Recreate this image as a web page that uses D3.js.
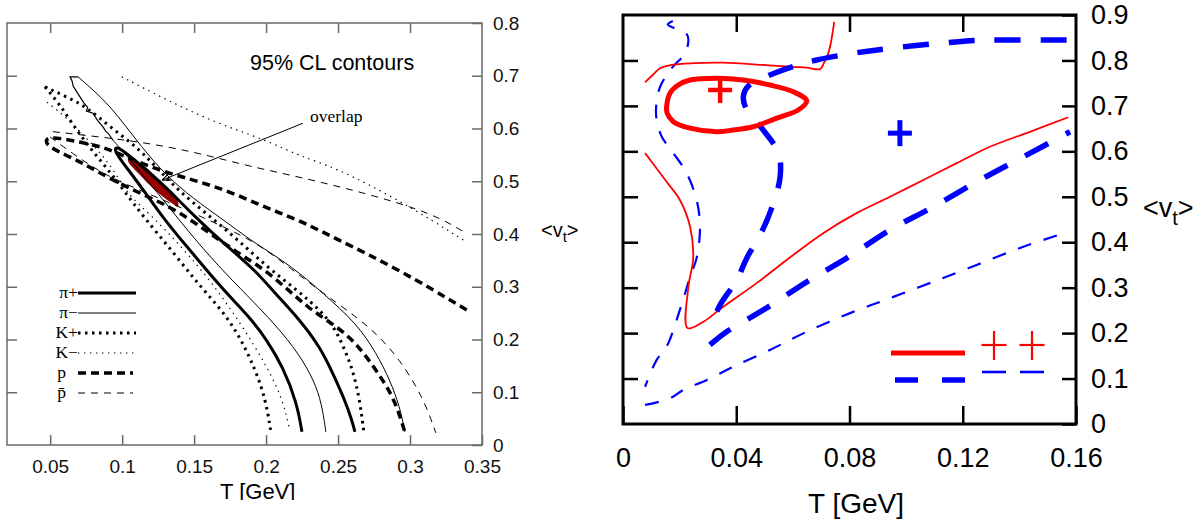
<!DOCTYPE html>
<html>
<head>
<meta charset="utf-8">
<script src="https://cdn.jsdelivr.net/npm/d3@7"></script>
<style>
  body { margin: 0; background: #fff; }
  text { font-family: "Liberation Sans", Arial, Helvetica, sans-serif; }
  .serif { font-family: "Liberation Serif", "Times New Roman", serif; }
</style>
</head>
<body>
<div id="main"></div>
<script>
// ---- left panel: 95% CL contours, T [GeV] vs <v_t>
const leftTicksT = [0.05, 0.1, 0.15, 0.2, 0.25, 0.3, 0.35];
const leftTicksV = [0, 0.1, 0.2, 0.3, 0.4, 0.5, 0.6, 0.7, 0.8];

const piPlusA = [[0.0936,0.559],[0.1054,0.518],[0.1172,0.474],[0.1276,0.434],[0.1388,0.396],[0.1506,0.358],[0.1644,0.313],[0.1769,0.275],[0.1888,0.241],[0.2006,0.199],[0.2117,0.148],[0.2214,0.080],[0.2249,0.025]];
const piPlusB = [[0.0964,0.569],[0.1124,0.531],[0.1276,0.497],[0.1506,0.432],[0.1735,0.375],[0.1922,0.332],[0.2061,0.288],[0.2235,0.237],[0.2374,0.186],[0.2464,0.136],[0.2547,0.085],[0.2596,0.047],[0.2617,0.025]];

const piMinusWiggle = [[0.0693,0.698],[0.0638,0.698],[0.0652,0.690],[0.0660,0.680],[0.0672,0.675],[0.0688,0.668],[0.0707,0.660],[0.0735,0.648],[0.0760,0.640],[0.0752,0.633],[0.0797,0.629],[0.0830,0.615],[0.0867,0.603],[0.0885,0.595],[0.0905,0.590],[0.0936,0.578]];
const piMinusA = [[0.0936,0.578],[0.0999,0.559],[0.1124,0.518],[0.1276,0.468],[0.1506,0.389],[0.1728,0.322],[0.1915,0.271],[0.2117,0.212],[0.2256,0.161],[0.2353,0.110],[0.2394,0.066],[0.2415,0.025]];
const piMinusB = [[0.0693,0.698],[0.0892,0.651],[0.1054,0.594],[0.1216,0.537],[0.1401,0.487],[0.1587,0.449],[0.1818,0.404],[0.1910,0.385],[0.2188,0.337],[0.2394,0.288],[0.2628,0.231],[0.2767,0.174],[0.2860,0.123],[0.2929,0.073],[0.2964,0.025]];

const kPlusA = [[0.0464,0.679],[0.0568,0.645],[0.0658,0.607],[0.0776,0.563],[0.0894,0.525],[0.1019,0.480],[0.1144,0.434],[0.1353,0.366],[0.1540,0.301],[0.1735,0.243],[0.1874,0.176],[0.1971,0.110],[0.2013,0.061],[0.2033,0.025]];
const kPlusB = [[0.0464,0.679],[0.0614,0.660],[0.0753,0.641],[0.0915,0.603],[0.1103,0.565],[0.1242,0.525],[0.1401,0.480],[0.1589,0.438],[0.1804,0.389],[0.2013,0.336],[0.2214,0.294],[0.2374,0.256],[0.2478,0.222],[0.2547,0.180],[0.2603,0.142],[0.2651,0.085],[0.2679,0.025]];

const kMinusA = [[0.0478,0.650],[0.0617,0.620],[0.0728,0.588],[0.0846,0.555],[0.0950,0.518],[0.1040,0.474],[0.1193,0.438],[0.1401,0.379],[0.1610,0.313],[0.1818,0.233],[0.2013,0.146],[0.2117,0.085],[0.2165,0.028]];
const kMinusB = [[0.0997,0.698],[0.1309,0.654],[0.1656,0.610],[0.2003,0.578],[0.2235,0.547],[0.2466,0.528],[0.2929,0.464],[0.3392,0.385]];

const protonA = [[0.0464,0.588],[0.0728,0.573],[0.0894,0.563],[0.1075,0.540],[0.1311,0.516],[0.1540,0.499],[0.1769,0.478],[0.2006,0.449],[0.2214,0.428],[0.2464,0.394],[0.2929,0.332],[0.3394,0.256]];
const protonB = [[0.0464,0.567],[0.0658,0.544],[0.0811,0.521],[0.1040,0.487],[0.1346,0.451],[0.1575,0.408],[0.1804,0.364],[0.1971,0.336],[0.2131,0.300],[0.2283,0.262],[0.2443,0.233],[0.2582,0.205],[0.2700,0.167],[0.2811,0.123],[0.2894,0.085],[0.2964,0.025]];

const pbarA = [[0.0519,0.594],[0.0846,0.584],[0.1193,0.572],[0.1540,0.553],[0.1888,0.528],[0.2235,0.508],[0.2698,0.477],[0.3160,0.439],[0.3392,0.401]];
const pbarB = [[0.0499,0.584],[0.0658,0.552],[0.0797,0.527],[0.0915,0.508],[0.1124,0.483],[0.1332,0.459],[0.1540,0.434],[0.1749,0.408],[0.1957,0.379],[0.2165,0.336],[0.2394,0.288],[0.2628,0.243],[0.2790,0.205],[0.2929,0.161],[0.3047,0.110],[0.3124,0.066],[0.3179,0.023]];

const overlapRegion = [[0.1043,0.543],[0.1158,0.528],[0.1274,0.496],[0.1367,0.474],[0.1390,0.452],[0.1344,0.459],[0.1228,0.483],[0.1112,0.515],[0.1043,0.537]];
const overlapArrow = [[0.2256,0.610],[0.1276,0.502]];

const legendLabels = ["π+", "π−", "K+", "K−", "p", "p\u0304"];

// ---- right panel
const rightTicksT = [0, 0.04, 0.08, 0.12, 0.16];
const rightTicksV = [0, 0.1, 0.2, 0.3, 0.4, 0.5, 0.6, 0.7, 0.8, 0.9];

const redBest = [[0.0154,0.698],[0.0166,0.728],[0.0195,0.746],[0.0237,0.757],[0.0331,0.761],[0.0425,0.757],[0.0519,0.746],[0.0602,0.731],[0.0649,0.711],[0.0619,0.691],[0.0543,0.673],[0.0460,0.654],[0.0390,0.647],[0.0331,0.643],[0.0237,0.651],[0.0178,0.665],[0.0156,0.684]];
const redThinTop = [[0.0746,0.885],[0.0740,0.860],[0.0733,0.835],[0.0722,0.810],[0.0710,0.795],[0.0696,0.781],[0.0650,0.784],[0.0602,0.786],[0.0500,0.790],[0.0354,0.795],[0.0250,0.794],[0.0170,0.790],[0.0131,0.783],[0.0105,0.768],[0.0078,0.752]];
const redThinBottom = [[0.0078,0.596],[0.0154,0.533],[0.0201,0.493],[0.0237,0.434],[0.0248,0.365],[0.0231,0.302],[0.0228,0.211],[0.0284,0.225],[0.0354,0.258],[0.0472,0.310],[0.0578,0.361],[0.0707,0.420],[0.0825,0.464],[0.0943,0.500],[0.1061,0.537],[0.1179,0.574],[0.1296,0.610],[0.1437,0.643],[0.1573,0.675]];

const blueThickTop = [[0.1567,0.845],[0.1355,0.845],[0.1226,0.8435],[0.1120,0.8377],[0.0943,0.8267],[0.0813,0.8157],[0.0684,0.801],[0.0602,0.787],[0.0519,0.768],[0.0443,0.744],[0.0425,0.720],[0.0437,0.691],[0.0490,0.651],[0.0549,0.596],[0.0555,0.544],[0.0525,0.475],[0.0490,0.423],[0.0437,0.365],[0.0402,0.317],[0.0343,0.262],[0.0307,0.211]];
const blueThickBottom = [[0.0307,0.174],[0.0366,0.203],[0.0496,0.251],[0.0660,0.317],[0.0790,0.365],[0.0943,0.427],[0.1096,0.478],[0.1261,0.537],[0.1414,0.588],[0.1579,0.643]];

const blueThinUpper = [[0.0176,0.887],[0.0158,0.879],[0.0185,0.870],[0.0225,0.858],[0.0231,0.845],[0.0219,0.816],[0.0172,0.783],[0.0131,0.742],[0.0117,0.698],[0.0119,0.669],[0.0137,0.632],[0.0178,0.596],[0.0225,0.552],[0.0260,0.493],[0.0272,0.434],[0.0260,0.365],[0.0237,0.324],[0.0201,0.251],[0.0154,0.170],[0.0119,0.141],[0.0078,0.082]];
const blueThinLower = [[0.0078,0.042],[0.0166,0.0565],[0.0213,0.075],[0.0296,0.097],[0.0390,0.126],[0.0519,0.163],[0.0649,0.203],[0.0802,0.244],[0.0943,0.277],[0.1096,0.313],[0.1249,0.350],[0.1414,0.390],[0.1573,0.423]];

const redBestPoint = [0.0343, 0.735];
const blueBestPoint = [0.0978, 0.640];

const svg = d3.select("#main")
  .append("svg")
  .attr("width", 1202)
  .attr("height", 520);

svg.append("defs").append("clipPath")
  .attr("id", "clipLeft")
  .append("rect")
  .attr("x", 0).attr("y", 0).attr("width", 600).attr("height", 500);

svg.select("defs").append("marker")
  .attr("id", "arrow")
  .attr("viewBox", "0 0 10 10")
  .attr("refX", 10).attr("refY", 5)
  .attr("markerWidth", 9).attr("markerHeight", 9)
  .attr("markerUnits", "userSpaceOnUse")
  .attr("orient", "auto")
  .append("path")
  .attr("d", "M0,1 L10,5 L0,9")
  .attr("fill", "none")
  .attr("stroke", "#000")
  .attr("stroke-width", 1.2);

// ================= LEFT =================
const xL = d3.scaleLinear().domain([0.02, 0.35]).range([7, 482]);
const yL = d3.scaleLinear().domain([0, 0.8]).range([445, 23]);

const left = svg.append("g").attr("clip-path", "url(#clipLeft)");

const lineL = d3.line()
  .x(d => xL(d[0]))
  .y(d => yL(d[1]))
  .curve(d3.curveBasis);

left.append("path")
  .attr("d", d3.line().x(d => xL(d[0])).y(d => yL(d[1])).curve(d3.curveCatmullRomClosed)(overlapRegion))
  .attr("fill", "#960000");

const leftStyles = {
  thickSolid: { w: 3, dash: null },
  thinSolid: { w: 1, dash: null },
  thickDot: { w: 3, dash: "2.5,4.5" },
  thinDot: { w: 1.2, dash: "1.4,4.6" },
  thickDash: { w: 3.5, dash: "8,5" },
  thinDash: { w: 1, dash: "7,6" }
};

const leftCurves = [
  { pts: kPlusA, s: "thickDot" },
  { pts: kPlusB, s: "thickDot" },
  { pts: kMinusA, s: "thinDot" },
  { pts: kMinusB, s: "thinDot" },
  { pts: protonA.slice().reverse().concat(protonB), s: "thickDash" },
  { pts: pbarA, s: "thinDash" },
  { pts: pbarB, s: "thinDash" },
  { pts: piMinusA, s: "thinSolid" },
  { pts: piMinusB, s: "thinSolid" },
  { pts: piPlusA.slice().reverse().concat(piPlusB), s: "thickSolid" }
];

left.selectAll("path.curve")
  .data(leftCurves)
  .enter()
  .append("path")
  .attr("class", "curve")
  .attr("d", d => lineL(d.pts))
  .attr("fill", "none")
  .attr("stroke", "#000")
  .attr("stroke-width", d => leftStyles[d.s].w)
  .attr("stroke-dasharray", d => leftStyles[d.s].dash);

// shaky top of the pi- contour
left.append("path")
  .attr("d", d3.line().x(d => xL(d[0])).y(d => yL(d[1]))(piMinusWiggle))
  .attr("fill", "none")
  .attr("stroke", "#000")
  .attr("stroke-width", 1.2);

// overlap annotation
left.append("line")
  .attr("x1", xL(overlapArrow[0][0])).attr("y1", yL(overlapArrow[0][1]))
  .attr("x2", xL(overlapArrow[1][0])).attr("y2", yL(overlapArrow[1][1]))
  .attr("stroke", "#000")
  .attr("stroke-width", 1)
  .attr("marker-end", "url(#arrow)");

left.append("text")
  .attr("class", "serif")
  .attr("x", xL(overlapArrow[0][0]) + 7)
  .attr("y", yL(overlapArrow[0][1]) - 1)
  .style("font-size", "17.5px")
  .text("overlap");

left.append("text")
  .attr("x", 250)
  .attr("y", 70)
  .style("font-size", "21.5px")
  .text("95% CL contours");

// frame + axes
const grey = "#6a6a6a";

left.append("g")
  .attr("transform", "translate(0," + 445 + ")")
  .call(d3.axisBottom(xL).tickValues(leftTicksT).tickSize(-10).tickPadding(15).tickFormat(d => String(d)))
  .call(g => g.select(".domain").remove())
  .call(g => g.selectAll("line").attr("stroke", grey).attr("stroke-width", 1.5))
  .call(g => g.selectAll("text").style("font-size", "19px").attr("fill", "#111"));

left.append("g")
  .attr("transform", "translate(0," + 23 + ")")
  .call(d3.axisTop(xL).tickValues(leftTicksT.slice(0, 6)).tickSize(-10).tickFormat(""))
  .call(g => g.select(".domain").remove())
  .call(g => g.selectAll("line").attr("stroke", grey).attr("stroke-width", 1.5));

left.append("g")
  .attr("transform", "translate(" + 7 + ",0)")
  .call(d3.axisLeft(yL).tickValues(leftTicksV.slice(1, 8)).tickSize(-10).tickFormat(""))
  .call(g => g.select(".domain").remove())
  .call(g => g.selectAll("line").attr("stroke", grey).attr("stroke-width", 1.5));

left.append("g")
  .attr("transform", "translate(" + 482 + ",0)")
  .call(d3.axisRight(yL).tickValues(leftTicksV).tickSize(-10).tickPadding(11).tickFormat(d => String(d)))
  .call(g => g.select(".domain").remove())
  .call(g => g.selectAll("line").attr("stroke", grey).attr("stroke-width", 1.5))
  .call(g => g.selectAll("text").style("font-size", "19px").attr("fill", "#111"));

left.append("rect")
  .attr("x", 7).attr("y", 23)
  .attr("width", 475).attr("height", 422)
  .attr("fill", "none")
  .attr("stroke", grey)
  .attr("stroke-width", 1.5);

left.append("text")
  .attr("x", 220)
  .attr("y", 499)
  .style("font-size", "22px")
  .text("T [GeV]");

const vtL = left.append("text")
  .attr("x", 541)
  .attr("y", 237)
  .style("font-size", "20px");
vtL.append("tspan").text("<v");
vtL.append("tspan").attr("dy", 5).style("font-size", "15px").text("t");
vtL.append("tspan").attr("dy", -5).text(">");

// legend
const legendKeys = ["thickSolid", "thinSolid", "thickDot", "thinDot", "thickDash", "thinDash"];
const legendY = d3.scalePoint().domain(d3.range(6)).range([293, 393]);

const leg = left.append("g");
leg.selectAll("line")
  .data(legendKeys)
  .enter()
  .append("line")
  .attr("x1", 78)
  .attr("x2", (d, i) => i < 4 ? 136 : 133)
  .attr("y1", (d, i) => legendY(i))
  .attr("y2", (d, i) => legendY(i))
  .attr("stroke", "#000")
  .attr("stroke-width", d => leftStyles[d].w)
  .attr("stroke-dasharray", d => leftStyles[d].dash);

leg.selectAll("text")
  .data(legendLabels)
  .enter()
  .append("text")
  .attr("class", "serif")
  .attr("x", (d, i) => i < 4 ? 78 : 66)
  .attr("y", (d, i) => legendY(i) + 5)
  .attr("text-anchor", "end")
  .style("font-size", "17.5px")
  .text(d => d);

// ================= RIGHT =================
const xR = d3.scaleLinear().domain([0, 0.16]).range([623, 1076]);
const yR = d3.scaleLinear().domain([0, 0.9]).range([424, 15]);

const right = svg.append("g");

const lineR = d3.line()
  .x(d => xR(d[0]))
  .y(d => yR(d[1]))
  .curve(d3.curveCatmullRom.alpha(0.5));

const red = "#ff0000";
const blue = "#0000ff";

const rightCurves = [
  { pts: blueThinUpper, c: blue, w: 2.2, dash: "14,13" },
  { pts: blueThinLower, c: blue, w: 2.2, dash: "14,13" },
  { pts: redThinTop, c: red, w: 1.8, dash: null },
  { pts: redThinBottom, c: red, w: 1.8, dash: null },
  { pts: blueThickTop, c: blue, w: 5.5, dash: "26,20" },
  { pts: blueThickBottom, c: blue, w: 5.5, dash: "26,20" }
];

right.selectAll("path.curve")
  .data(rightCurves)
  .enter()
  .append("path")
  .attr("class", "curve")
  .attr("d", d => lineR(d.pts))
  .attr("fill", "none")
  .attr("stroke", d => d.c)
  .attr("stroke-width", d => d.w)
  .attr("stroke-dasharray", d => d.dash);

right.append("path")
  .attr("d", d3.line().x(d => xR(d[0])).y(d => yR(d[1])).curve(d3.curveCatmullRomClosed)(redBest))
  .attr("fill", "none")
  .attr("stroke", red)
  .attr("stroke-width", 5);

// best-fit crosses
const crossData = [
  { p: redBestPoint, c: red, hw: 12, hh: 13, w: 4.5 },
  { p: blueBestPoint, c: blue, hw: 12, hh: 13, w: 5 }
];
crossData.forEach(d => {
  const cx = xR(d.p[0]), cy = yR(d.p[1]);
  right.append("line").attr("x1", cx - d.hw).attr("x2", cx + d.hw).attr("y1", cy).attr("y2", cy)
    .attr("stroke", d.c).attr("stroke-width", d.w);
  right.append("line").attr("x1", cx).attr("x2", cx).attr("y1", cy - d.hh).attr("y2", cy + d.hh)
    .attr("stroke", d.c).attr("stroke-width", d.w);
});

// axes
right.append("g")
  .attr("transform", "translate(0," + 424 + ")")
  .call(d3.axisBottom(xR).tickValues(rightTicksT).tickSize(-18).tickPadding(24).tickFormat(d => String(d)))
  .call(g => g.select(".domain").remove())
  .call(g => g.selectAll("line").attr("stroke", "#000").attr("stroke-width", 2.5))
  .call(g => g.selectAll("text").style("font-size", "27px").attr("fill", "#000"));

right.append("g")
  .attr("transform", "translate(0," + 15 + ")")
  .call(d3.axisTop(xR).tickValues(rightTicksT.slice(1, 4)).tickSize(-17).tickFormat(""))
  .call(g => g.select(".domain").remove())
  .call(g => g.selectAll("line").attr("stroke", "#000").attr("stroke-width", 2.5));

right.append("g")
  .attr("transform", "translate(" + 623 + ",0)")
  .call(d3.axisLeft(yR).tickValues(rightTicksV.slice(1, 9)).tickSize(-15).tickFormat(""))
  .call(g => g.select(".domain").remove())
  .call(g => g.selectAll("line").attr("stroke", "#000").attr("stroke-width", 2.5));

right.append("g")
  .attr("transform", "translate(" + 1076 + ",0)")
  .call(d3.axisRight(yR).tickValues(rightTicksV).tickSize(-14).tickPadding(15).tickFormat(d => String(d)))
  .call(g => g.select(".domain").remove())
  .call(g => g.selectAll("line").attr("stroke", "#000").attr("stroke-width", 2.5))
  .call(g => g.selectAll("text").style("font-size", "27px").attr("fill", "#000"));

right.append("rect")
  .attr("x", 623).attr("y", 15)
  .attr("width", 453).attr("height", 409)
  .attr("fill", "none")
  .attr("stroke", "#000")
  .attr("stroke-width", 3);

right.append("text")
  .attr("x", 808)
  .attr("y", 513)
  .style("font-size", "28px")
  .text("T [GeV]");

const vtR = right.append("text")
  .attr("x", 1143)
  .attr("y", 217)
  .style("font-size", "27px");
vtR.append("tspan").text("<v");
vtR.append("tspan").attr("dy", 8).style("font-size", "20px").text("t");
vtR.append("tspan").attr("dy", -8).text(">");

// right legend
const rleg = right.append("g");
rleg.append("line").attr("x1", 891).attr("x2", 965).attr("y1", 353).attr("y2", 353)
  .attr("stroke", red).attr("stroke-width", 5);
rleg.append("line").attr("x1", 895).attr("x2", 965).attr("y1", 380).attr("y2", 380)
  .attr("stroke", blue).attr("stroke-width", 5.5).attr("stroke-dasharray", "23,24");
[994, 1032].forEach(cx => {
  rleg.append("line").attr("x1", cx - 12.5).attr("x2", cx + 12.5).attr("y1", 345).attr("y2", 345)
    .attr("stroke", red).attr("stroke-width", 2.2);
  rleg.append("line").attr("x1", cx).attr("x2", cx).attr("y1", 331).attr("y2", 360)
    .attr("stroke", red).attr("stroke-width", 2.2);
  rleg.append("line").attr("x1", cx - 12).attr("x2", cx + 12).attr("y1", 372).attr("y2", 372)
    .attr("stroke", blue).attr("stroke-width", 2.6);
});
</script>
</body>
</html>
